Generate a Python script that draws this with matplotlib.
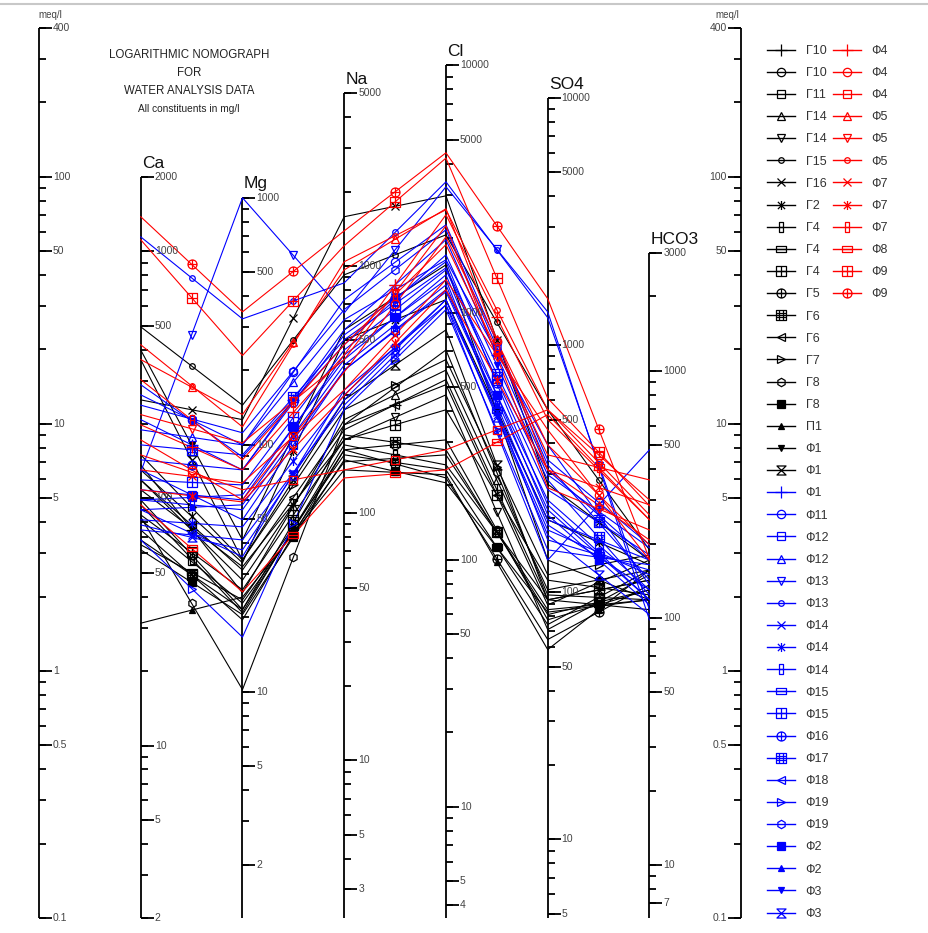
import numpy as np
import matplotlib
matplotlib.use('Agg')
import matplotlib.pyplot as plt
from matplotlib.path import Path
from matplotlib.lines import Line2D

plt.rcParams['font.family'] = ['Liberation Sans', 'DejaVu Sans']

# ---------------- data ----------------
ions = ['Ca', 'Mg', 'Na', 'Cl', 'SO4', 'HCO3']
eq_weight = [20.04, 12.15, 22.99, 35.45, 48.03, 61.02]
axis_top_mg = [2000, 1000, 5000, 10000, 10000, 3000]
axis_bottom_mg = [2, 2, 3, 4, 5, 7]
axis_labels_mg = [
    [2000, 1000, 500, 100, 50, 10, 5, 2],
    [1000, 500, 100, 50, 10, 5, 2],
    [5000, 1000, 500, 100, 50, 10, 5, 3],
    [10000, 5000, 1000, 500, 100, 50, 10, 5, 4],
    [10000, 5000, 1000, 500, 100, 50, 10, 5],
    [3000, 1000, 500, 100, 50, 10, 7],
]
meq_labels = [400, 100, 50, 10, 5, 1, 0.5, 0.1]

samples = ['Г10', 'Г10', 'Г11', 'Г14', 'Г14', 'Г15', 'Г16', 'Г2', 'Г4', 'Г4',
           'Г4', 'Г5', 'Г6', 'Г6', 'Г7', 'Г8', 'Г8', 'П1', 'Ф1', 'Ф1',
           'Ф1', 'Ф11', 'Ф12', 'Ф12', 'Ф13', 'Ф13', 'Ф14', 'Ф14', 'Ф14', 'Ф15',
           'Ф15', 'Ф16', 'Ф17', 'Ф18', 'Ф19', 'Ф19', 'Ф2', 'Ф2', 'Ф3', 'Ф3',
           'Ф4', 'Ф4', 'Ф4', 'Ф5', 'Ф5', 'Ф5', 'Ф7', 'Ф7', 'Ф7', 'Ф8',
           'Ф9', 'Ф9']
group = ['black'] * 20 + ['blue'] * 20 + ['red'] * 12

# concentrations in meq/l, read on the meq scale
ca_meq = [5.93, 4.92, 4.09, 6.82, 5.41, 24.7, 12.5, 6.51, 4.70, 3.24,
          4.28, 3.72, 3.39, 5.93, 7.49, 4.20, 3.09, 1.56, 19.9, 18.2,
          10.4, 13.1, 6.51, 9.46, 6.39, 57.1, 3.72, 4.09, 4.92, 5.41,
          5.93, 7.15, 8.22, 4.49, 3.39, 11.9, 4.92, 4.49, 14.4, 3.90,
          9.91, 8.61, 7.49, 18.2, 10.9, 20.9, 6.51, 5.41, 15.1, 4.70,
          55.6, 68.9]
mg_meq = [2.33, 1.77, 1.88, 2.07, 2.64, 11.9, 10.4, 2.74, 1.72, 1.94,
          2.13, 1.61, 1.77, 2.56, 2.81, 0.84, 1.69, 1.99, 3.39, 2.81,
          6.51, 8.22, 4.09, 8.22, 82.2, 26.6, 3.39, 3.83, 4.49, 4.92,
          5.66, 6.51, 7.49, 2.90, 1.37, 9.20, 5.16, 4.70, 7.35, 3.09,
          6.51, 4.92, 5.41, 10.9, 8.37, 9.72, 5.77, 4.83, 7.15, 2.09,
          18.9, 28.4]
na_meq = [9.46, 7.85, 7.02, 10.4, 8.61, 40.1, 68.9, 21.9, 8.22, 7.49,
          8.61, 7.85, 9.02, 9.91, 11.4, 9.91, 7.15, 6.51, 24.0, 12.5,
          24.0, 31.8, 16.5, 26.4, 28.1, 37.2, 11.9, 13.1, 16.5, 19.0,
          19.9, 22.9, 21.9, 13.7, 11.4, 29.0, 18.2, 17.3, 20.9, 12.5,
          19.0, 16.2, 6.51, 42.0, 18.2, 45.3, 13.7, 13.0, 20.9, 6.04,
          52.6, 60.4]
cl_meq = [15.1, 8.61, 7.49, 16.5, 13.1, 58.2, 83.7, 31.8, 6.82, 6.51,
          11.4, 6.04, 7.85, 14.4, 18.2, 19.9, 5.77, 6.22, 44.0, 24.0,
          55.6, 63.9, 34.9, 46.1, 91.1, 95.4, 30.3, 31.8, 34.2, 38.3,
          42.0, 45.3, 42.8, 30.3, 29.0, 61.0, 40.1, 36.5, 48.3, 31.8,
          70.2, 57.1, 7.85, 74.2, 63.3, 73.5, 38.3, 34.9, 53.1, 6.51,
          119, 125]
so4_meq = [1.94, 1.61, 1.77, 2.13, 1.47, 11.4, 5.70, 4.09, 1.94, 1.54,
           2.33, 1.34, 1.69, 1.85, 2.45, 2.03, 1.73, 1.22, 2.81, 1.94,
           6.51, 7.15, 4.92, 8.22, 28.4, 26.9, 4.09, 3.72, 4.49, 3.39,
           5.41, 4.70, 5.93, 2.81, 3.09, 6.82, 4.28, 3.90, 6.22, 3.55,
           10.4, 8.22, 11.4, 6.51, 5.51, 11.4, 9.46, 6.51, 7.49, 10.9,
           12.7, 32.1]
hco3_meq = [2.33, 2.13, 1.94, 2.56, 2.45, 3.09, 2.81, 2.69, 1.77, 2.56,
            2.03, 2.23, 2.13, 2.81, 2.95, 1.94, 1.94, 2.56, 1.94, 2.33,
            2.81, 3.24, 2.13, 2.23, 1.61, 1.77, 2.81, 2.45, 1.94, 2.56,
            2.95, 1.94, 2.03, 7.85, 2.69, 2.33, 1.85, 2.13, 3.15, 1.69,
            4.09, 3.24, 4.92, 3.39, 3.72, 4.28, 2.81, 4.70, 5.93, 4.09,
            4.66, 2.84]

# ---------------- styles ----------------
colors = {'black': '#000000', 'blue': '#0000ff', 'red': '#ff0000'}
marker_cycle = ['+', 'o', 'sq', 'tu', 'td', 'dm', 'x', 'ast', 'bar', 'sqh',
                'sqp', 'cp', 'sqg', 'tl', 'tr', 'hx', 'S', 'T', 'V', 'hg']


def compound(parts):
    verts, codes = [], []
    for pts, closed in parts:
        verts.append(pts[0]); codes.append(Path.MOVETO)
        for p in pts[1:]:
            verts.append(p); codes.append(Path.LINETO)
        if closed:
            verts.append(pts[0]); codes.append(Path.CLOSEPOLY)
    return Path(verts, codes)


sq = [(-1, -1), (1, -1), (1, 1), (-1, 1)]
paths = {
    'sqp': compound([(sq, True), ([(0, -1), (0, 1)], False), ([(-1, 0), (1, 0)], False)]),
    'sqg': compound([(sq, True), ([(-0.35, -1), (-0.35, 1)], False), ([(0.35, -1), (0.35, 1)], False),
                     ([(-1, -0.35), (1, -0.35)], False), ([(-1, 0.35), (1, 0.35)], False)]),
    'sqh': compound([([(-1, -0.6), (1, -0.6), (1, 0.6), (-1, 0.6)], True), ([(-1, 0), (1, 0)], False)]),
    'bar': compound([([(-0.4, -1), (0.4, -1), (0.4, 1), (-0.4, 1)], True), ([(-0.4, 0), (0.4, 0)], False)]),
    'hg': compound([([(-1, 1), (1, 1), (-1, -1), (1, -1)], True)]),
    'ast': compound([([(0, -1), (0, 1)], False), ([(-0.8, -0.8), (0.8, 0.8)], False),
                     ([(-0.8, 0.8), (0.8, -0.8)], False)]),
}
circ = Path.unit_circle()
paths['cp'] = Path.make_compound_path(circ, compound([([(0, -1), (0, 1)], False), ([(-1, 0), (1, 0)], False)]))


def marker_style(key, c):
    d = dict(markeredgecolor=c, markeredgewidth=0.9)
    if key == '+':
        d.update(marker='+', markersize=8)
    elif key == 'x':
        d.update(marker='x', markersize=6)
    elif key == 'o':
        d.update(marker='o', markersize=6, markerfacecolor='none')
    elif key == 'sq':
        d.update(marker='s', markersize=6, markerfacecolor='none')
    elif key == 'tu':
        d.update(marker='^', markersize=6, markerfacecolor='none')
    elif key == 'td':
        d.update(marker='v', markersize=6, markerfacecolor='none')
    elif key == 'tl':
        d.update(marker='<', markersize=6, markerfacecolor='none')
    elif key == 'tr':
        d.update(marker='>', markersize=6, markerfacecolor='none')
    elif key == 'dm':
        d.update(marker='o', markersize=4, markerfacecolor='none')
    elif key == 'hx':
        d.update(marker='h', markersize=6, markerfacecolor='none')
    elif key == 'S':
        d.update(marker='s', markersize=6, markerfacecolor=c)
    elif key == 'T':
        d.update(marker='^', markersize=4.5, markerfacecolor=c)
    elif key == 'V':
        d.update(marker='v', markersize=4.5, markerfacecolor=c)
    else:
        d.update(marker=paths[key], markersize=6.5, markerfacecolor='none')
    return d


# ---------------- figure ----------------
W, H = 929, 933
fig = plt.figure(figsize=(W / 100, H / 100), dpi=100)
fig.add_artist(Line2D([0, 1], [1 - 4 / H] * 2, color='#c8c8c8', lw=1.5))

x_left_px, x_right_px, y_top_px, y_bot_px = 39, 741, 28, 918
XR = 6.9
ax = fig.add_axes([x_left_px / W, 1 - y_bot_px / H, (x_right_px - x_left_px) / W, (y_bot_px - y_top_px) / H])
ax.set_yscale('log')
ax.set_ylim(0.1, 400)
ax.set_xlim(0, XR)
ax.axis('off')
pxu = XR / (x_right_px - x_left_px)   # data units per pixel (x)

AX_LW = 1.3
TICK_C = '#444444'


def draw_axis(x, lo, hi, ticks, majors, labels, side=1, fs=7.5):
    ax.plot([x, x], [lo, hi], color='k', lw=AX_LW, clip_on=False, solid_capstyle='butt')
    for t in ticks:
        ax.plot([x, x + side * 7 * pxu], [t, t], color='k', lw=AX_LW, clip_on=False, solid_capstyle='butt')
    for t, lab in zip(majors, labels):
        ax.plot([x, x + side * 13 * pxu], [t, t], color='k', lw=AX_LW, clip_on=False, solid_capstyle='butt')
        ax.text(x + side * 14 * pxu, t, lab, ha='left' if side > 0 else 'right', va='center',
                fontsize=fs, color=TICK_C, clip_on=False)


def log_ticks(lo, hi):
    out = []
    for d in range(-2, 6):
        for k in range(1, 10):
            v = k * 10.0 ** d
            if lo * 0.999 <= v <= hi * 1.001:
                out.append(v)
    return out


def fmt(v):
    return ('%g' % v)


# meq axes
meq_ticks = log_ticks(0.1, 400)
draw_axis(0, 0.1, 400, meq_ticks, meq_labels, [fmt(v) for v in meq_labels], side=1)
draw_axis(XR, 0.1, 400, meq_ticks, meq_labels, [fmt(v) for v in meq_labels], side=-1)
ax.text(0.11, 400 * 10 ** (13 / 247), 'meq/l', ha='center', va='center', fontsize=7, color=TICK_C, clip_on=False)
ax.text(XR - 0.13, 400 * 10 ** (13 / 247), 'meq/l', ha='center', va='center', fontsize=7, color=TICK_C, clip_on=False)

# ion axes
ion_x = [1, 2, 3, 4, 5, 6]
for i, ion in enumerate(ions):
    ew = eq_weight[i]
    top = axis_top_mg[i] / ew
    tk = [v / ew for v in log_ticks(axis_bottom_mg[i], axis_top_mg[i])]
    mj = [v / ew for v in axis_labels_mg[i]]
    draw_axis(ion_x[i], 0.1, top, tk, mj, [fmt(v) for v in axis_labels_mg[i]], side=1)
    ax.annotate(ion, xy=(ion_x[i], top), xytext=(1, 4.5), textcoords='offset points',
                ha='left', va='bottom', fontsize=12.5, color='#111111', annotation_clip=False)

# title
tx = (189 - x_left_px) * pxu
for txt, yy, fs in [('LOGARITHMIC NOMOGRAPH', 55, 8.3), ('FOR', 73, 8.3),
                    ('WATER ANALYSIS DATA', 91, 8.3), ('All constituents in mg/l', 109, 7.3)]:
    ax.text(tx, 400 / 10 ** ((yy - y_top_px) / 247), txt, ha='center', va='center',
            fontsize=fs, color='#222222', clip_on=False)

# data
values = np.array([ca_meq, mg_meq, na_meq, cl_meq, so4_meq, hco3_meq]).T
xm = np.array(ion_x[:-1]) + 0.5
handles = []
for j, name in enumerate(samples):
    c = colors[group[j]]
    v = values[j]
    ax.plot(ion_x, v, color=c, lw=0.8, clip_on=False, zorder=2)
    key = marker_cycle[j % 20] if j < 40 else marker_cycle[j - 40]
    ms = marker_style(key, c)
    ax.plot(xm, np.sqrt(v[:-1] * v[1:]), linestyle='none', clip_on=False, zorder=3, **ms)
    handles.append(Line2D([], [], color=c, lw=1.0, **ms))

leg_kw = dict(loc='upper left', frameon=False, fontsize=9, handlelength=2.25, handletextpad=0.85,
              labelspacing=0.81, borderaxespad=0, borderpad=0, labelcolor='#333333')
fig.legend(handles[:40], samples[:40], bbox_to_anchor=(767 / W, 1 - 45 / H), **leg_kw)
fig.legend(handles[40:], samples[40:], bbox_to_anchor=(833 / W, 1 - 45 / H), **leg_kw)

fig.savefig('out.png', dpi=100, facecolor='white')
